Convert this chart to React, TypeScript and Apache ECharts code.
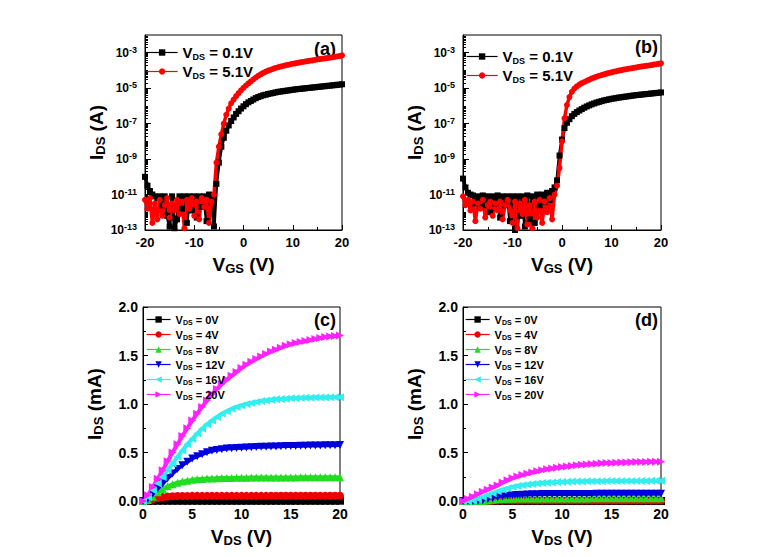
import React, { useEffect, useRef } from 'react';
import * as echarts from 'echarts';

// ---------- Data ----------
// Gate voltage sweep (V) for panels (a) and (b)
const vgs = [
  -20, -19.5, -19, -18.5, -18, -17.5, -17, -16.5, -16, -15.5, -15, -14.5, -14, -13.5, -13, -12.5,
  -12, -11.5, -11, -10.5, -10, -9.5, -9, -8.5, -8, -7.5, -7, -6.5, -6, -5.5, -5, -4.5, -4, -3.5,
  -3, -2.5, -2, -1.5, -1, -0.5, 0, 0.5, 1, 1.5, 2, 2.5, 3, 3.5, 4, 4.5, 5, 5.5, 6, 6.5, 7, 7.5,
  8, 8.5, 9, 9.5, 10, 10.5, 11, 11.5, 12, 12.5, 13, 13.5, 14, 14.5, 15, 15.5, 16, 16.5, 17, 17.5,
  18, 18.5, 19, 19.5, 20,
];
// log10(I_DS / A)
const aLogLow = [
  -10.0, -10.5, -10.8, -11.0, -11.1, -11.2, -11.1, -11.6, -11.1, -12.2, -12.8, -11.1, -12.9, -12.4,
  -11.1, -11.8, -11.1, -12.6, -11.1, -11.9, -11.1, -12.3, -11.1, -11.7, -11.1, -12.5, -11.0, -11.1,
  -12.8, -10.4, -9.2, -8.3, -7.8, -7.4, -7.1, -6.85, -6.65, -6.45, -6.3, -6.15, -6.02, -5.9, -5.8,
  -5.72, -5.64, -5.56, -5.5, -5.45, -5.4, -5.37, -5.33, -5.3, -5.27, -5.24, -5.21, -5.19, -5.17,
  -5.15, -5.13, -5.11, -5.09, -5.07, -5.05, -5.04, -5.02, -5.01, -4.99, -4.98, -4.96, -4.95, -4.93,
  -4.92, -4.9, -4.89, -4.87, -4.86, -4.84, -4.83, -4.81, -4.8, -4.78,
];
const aLogHigh = [
  -11.3, -11.8, -11.2, -12.6, -11.5, -12.4, -11.3, -12.2, -11.6, -11.2, -12.3, -11.5, -11.9, -11.3,
  -12.1, -11.4, -12.9, -11.3, -11.8, -11.2, -12.2, -11.4, -12.4, -11.2, -11.7, -11.3, -12.6, -11.4,
  -11.0, -9.2, -8.3, -7.6, -7.0, -6.5, -6.15, -5.85, -5.64, -5.45, -5.28, -5.12, -4.98, -4.85, -4.73,
  -4.62, -4.5, -4.4, -4.3, -4.22, -4.14, -4.07, -4.01, -3.96, -3.91, -3.86, -3.82, -3.78, -3.75,
  -3.71, -3.68, -3.65, -3.62, -3.6, -3.57, -3.54, -3.52, -3.5, -3.47, -3.45, -3.43, -3.41, -3.38,
  -3.36, -3.34, -3.32, -3.3, -3.28, -3.26, -3.24, -3.21, -3.19, -3.15,
];
const bLogLow = [
  -10.1, -10.6, -10.9, -11.0, -11.05, -11.5, -11.1, -11.7, -11.05, -11.6, -11.1, -12.0, -11.1, -11.5,
  -11.05, -12.3, -11.1, -11.6, -11.1, -12.5, -11.1, -13.0, -11.1, -12.2, -11.1, -12.8, -11.05, -12.4,
  -11.1, -12.6, -11.0, -11.6, -11.0, -11.4, -10.9, -11.3, -10.8, -10.6, -10.2, -8.8, -7.9, -7.25,
  -6.95, -6.75, -6.58, -6.45, -6.35, -6.26, -6.18, -6.1, -6.03, -5.97, -5.91, -5.86, -5.81, -5.77,
  -5.73, -5.69, -5.66, -5.63, -5.6, -5.58, -5.55, -5.53, -5.51, -5.49, -5.47, -5.45, -5.43, -5.41,
  -5.39, -5.38, -5.36, -5.35, -5.33, -5.32, -5.3, -5.29, -5.27, -5.26, -5.24,
];
const bLogHigh = [
  -11.1, -11.6, -11.3, -11.9, -11.4, -12.5, -11.5, -11.8, -11.3, -12.3, -11.6, -11.4, -12.2, -11.5,
  -11.9, -11.4, -12.4, -11.6, -11.3, -11.9, -12.6, -11.4, -12.9, -11.5, -12.1, -11.3, -12.7, -11.6,
  -12.9, -11.4, -12.3, -11.3, -12.6, -11.4, -12.0, -11.2, -12.4, -11.0, -10.5, -9.5, -8.0, -6.7,
  -5.95, -5.5, -5.2, -5.02, -4.9, -4.8, -4.72, -4.65, -4.58, -4.52, -4.45, -4.4, -4.35, -4.3, -4.26,
  -4.22, -4.18, -4.14, -4.11, -4.07, -4.04, -4.01, -3.98, -3.95, -3.93, -3.9, -3.88, -3.85, -3.83,
  -3.8, -3.78, -3.76, -3.74, -3.72, -3.7, -3.67, -3.65, -3.63, -3.6,
];

// Drain voltage sweep (V) for panels (c) and (d)
const vds = [
  0, 0.5, 1, 1.5, 2, 2.5, 3, 3.5, 4, 4.5, 5, 5.5, 6, 6.5, 7, 7.5, 8, 8.5, 9, 9.5, 10, 10.5, 11, 11.5,
  12, 12.5, 13, 13.5, 14, 14.5, 15, 15.5, 16, 16.5, 17, 17.5, 18, 18.5, 19, 19.5, 20,
];
// I_DS (mA)
const c0 = [
  0, 0.001, 0.002, 0.003, 0.003, 0.003, 0.003, 0.003, 0.003, 0.003, 0.003, 0.003, 0.003, 0.003,
  0.003, 0.003, 0.003, 0.003, 0.003, 0.003, 0.003, 0.003, 0.003, 0.003, 0.003, 0.003, 0.003, 0.003,
  0.003, 0.003, 0.003, 0.003, 0.003, 0.003, 0.003, 0.003, 0.003, 0.003, 0.003, 0.003, 0.003,
];
const c4 = [
  0, 0.005, 0.017, 0.03, 0.04, 0.046, 0.049, 0.051, 0.052, 0.052, 0.053, 0.053, 0.053, 0.053, 0.053,
  0.053, 0.053, 0.053, 0.053, 0.053, 0.053, 0.053, 0.053, 0.053, 0.053, 0.053, 0.054, 0.054, 0.054,
  0.054, 0.054, 0.054, 0.054, 0.054, 0.054, 0.054, 0.054, 0.054, 0.054, 0.054, 0.054,
];
const c8 = [
  0, 0.01, 0.045, 0.09, 0.125, 0.152, 0.172, 0.188, 0.2, 0.21, 0.218, 0.224, 0.228, 0.231, 0.233,
  0.235, 0.236, 0.237, 0.238, 0.239, 0.24, 0.24, 0.241, 0.241, 0.241, 0.242, 0.242, 0.242, 0.243,
  0.243, 0.243, 0.243, 0.244, 0.244, 0.244, 0.244, 0.245, 0.245, 0.245, 0.245, 0.245,
];
const c12 = [
  0, 0.02, 0.076, 0.13, 0.18, 0.235, 0.283, 0.33, 0.369, 0.405, 0.438, 0.462, 0.483, 0.502, 0.517,
  0.527, 0.534, 0.54, 0.544, 0.547, 0.55, 0.552, 0.554, 0.556, 0.558, 0.56, 0.562, 0.563, 0.565,
  0.566, 0.567, 0.568, 0.569, 0.57, 0.571, 0.572, 0.573, 0.574, 0.575, 0.576, 0.577,
];
const c16 = [
  0, 0.04, 0.11, 0.18, 0.248, 0.32, 0.386, 0.455, 0.52, 0.585, 0.64, 0.695, 0.745, 0.79, 0.83, 0.865,
  0.9, 0.925, 0.95, 0.97, 0.985, 1.0, 1.01, 1.02, 1.03, 1.037, 1.043, 1.048, 1.052, 1.055, 1.058,
  1.06, 1.062, 1.064, 1.065, 1.066, 1.067, 1.068, 1.069, 1.07, 1.07,
];
const c20 = [
  0, 0.06, 0.145, 0.23, 0.317, 0.41, 0.5, 0.585, 0.67, 0.75, 0.83, 0.9, 0.97, 1.035, 1.1, 1.155,
  1.205, 1.25, 1.29, 1.33, 1.37, 1.405, 1.435, 1.465, 1.49, 1.515, 1.54, 1.56, 1.58, 1.6, 1.615,
  1.63, 1.64, 1.65, 1.66, 1.67, 1.68, 1.69, 1.695, 1.7, 1.705,
];
const d0 = [
  0, 0, 0, 0, 0, 0, 0, 0, 0, 0, 0, 0, 0, 0, 0, 0, 0, 0, 0, 0, 0, 0, 0, 0, 0, 0, 0, 0, 0, 0, 0, 0, 0,
  0, 0, 0, 0, 0, 0, 0, 0,
];
const d4 = [
  0, 0, 0, 0, 0.001, 0.002, 0.003, 0.004, 0.004, 0.005, 0.005, 0.005, 0.005, 0.005, 0.005, 0.005,
  0.005, 0.005, 0.005, 0.005, 0.005, 0.005, 0.005, 0.005, 0.005, 0.005, 0.005, 0.005, 0.005, 0.005,
  0.005, 0.005, 0.005, 0.005, 0.005, 0.005, 0.005, 0.005, 0.005, 0.005, 0.005,
];
const d8 = [
  0, 0, 0, 0, 0, 0.006, 0.012, 0.017, 0.02, 0.022, 0.024, 0.025, 0.025, 0.026, 0.026, 0.026, 0.026,
  0.027, 0.027, 0.027, 0.027, 0.027, 0.027, 0.027, 0.027, 0.027, 0.028, 0.028, 0.028, 0.028, 0.028,
  0.028, 0.028, 0.028, 0.028, 0.028, 0.028, 0.028, 0.028, 0.028, 0.028,
];
const d12 = [
  0, 0, 0, 0, 0.008, 0.018, 0.028, 0.038, 0.046, 0.053, 0.058, 0.062, 0.065, 0.067, 0.069, 0.07,
  0.071, 0.071, 0.072, 0.072, 0.072, 0.072, 0.073, 0.073, 0.073, 0.073, 0.073, 0.074, 0.074, 0.074,
  0.074, 0.074, 0.074, 0.074, 0.075, 0.075, 0.075, 0.075, 0.075, 0.075, 0.075,
];
const d16 = [
  0, 0, 0.005, 0.02, 0.04, 0.06, 0.08, 0.1, 0.117, 0.132, 0.145, 0.155, 0.163, 0.17, 0.176, 0.181,
  0.185, 0.189, 0.192, 0.195, 0.197, 0.199, 0.2, 0.201, 0.202, 0.203, 0.203, 0.204, 0.204, 0.205,
  0.205, 0.205, 0.206, 0.206, 0.206, 0.207, 0.207, 0.207, 0.208, 0.208, 0.208,
];
const d20 = [
  0, 0.02, 0.045, 0.07, 0.095, 0.117, 0.14, 0.16, 0.19, 0.213, 0.235, 0.252, 0.268, 0.282, 0.295,
  0.307, 0.318, 0.328, 0.336, 0.344, 0.35, 0.356, 0.362, 0.368, 0.373, 0.377, 0.381, 0.385, 0.388,
  0.391, 0.393, 0.395, 0.397, 0.398, 0.4, 0.401, 0.402, 0.403, 0.404, 0.405, 0.405,
];

const logMajorTicks = [-13, -11, -9, -7, -5, -3];
const transferLegend = ['0.1V', '5.1V'];
const outputLegend = ['0V', '4V', '8V', '12V', '16V', '20V'];

// ---------- Helpers ----------
const FONT = 'Liberation Sans';
const pair = (xs: number[], ys: number[]) => xs.map((x, i) => [x, ys[i]]);

const logMinorTicks: number[] = [];
for (let n = -13; n < -2; n++) {
  for (let k = 1; k <= 9; k++) {
    if (k === 1 && Math.abs(n) % 2 === 1) continue;
    logMinorTicks.push(n + Math.log10(k));
  }
}

const lbl = (size: number) => ({ color: '#000', fontSize: size, fontWeight: 'bold', fontFamily: FONT });

function xAxisDef(gi: number, min: number, max: number, interval: number, nameTxt: string, fs: number, gap: number) {
  return {
    type: 'value', gridIndex: gi, min, max, interval,
    axisLine: { show: true, onZero: false, lineStyle: { color: '#000', width: 1 } },
    axisTick: { show: true, inside: true, length: 5, lineStyle: { color: '#000' } },
    minorTick: { show: true, splitNumber: 2, length: 3, lineStyle: { color: '#000' } },
    splitLine: { show: false }, minorSplitLine: { show: false },
    axisLabel: { ...lbl(fs), margin: 6 },
    name: `{v|V}{s|${nameTxt}}{v| (V)}`,
    nameLocation: 'middle', nameGap: gap, nameMoveOverlap: false,
    nameTextStyle: {
      rich: {
        v: { fontSize: 19, fontWeight: 'bold', fontFamily: FONT, color: '#000', lineHeight: 22 },
        s: { fontSize: 13, fontWeight: 'bold', fontFamily: FONT, color: '#000', verticalAlign: 'bottom', lineHeight: 22 },
      },
    },
  };
}

const yNameRich = {
  i: { fontSize: 19, fontWeight: 'bold', fontFamily: FONT, color: '#000', lineHeight: 22 },
  s: { fontSize: 13, fontWeight: 'bold', fontFamily: FONT, color: '#000', verticalAlign: 'bottom', lineHeight: 22 },
};

function logYAxes(gi: number) {
  return [
    {
      type: 'value', gridIndex: gi, min: -13, max: -2,
      axisLine: { show: true, onZero: false, lineStyle: { color: '#000', width: 1 } },
      axisTick: { show: true, inside: true, length: 6, customValues: logMajorTicks, lineStyle: { color: '#000' } },
      splitLine: { show: false },
      axisLabel: {
        customValues: logMajorTicks, margin: 8,
        formatter: (v: number) => `{b|10}{s|${Math.round(v)}}`,
        rich: {
          b: { ...lbl(12), lineHeight: 15 },
          s: { ...lbl(9), verticalAlign: 'top', lineHeight: 15 },
        },
      },
      name: '{i|I}{s|DS}{i| (A)}', nameLocation: 'middle', nameGap: 38, nameMoveOverlap: false,
      nameTextStyle: { rich: yNameRich },
    },
    {
      type: 'value', gridIndex: gi, min: -13, max: -2, position: 'left',
      axisLine: { show: false, onZero: false },
      axisTick: { show: true, inside: true, length: 3, customValues: logMinorTicks, lineStyle: { color: '#000' } },
      axisLabel: { show: false }, splitLine: { show: false },
    },
  ];
}

function linYAxis(gi: number) {
  return {
    type: 'value', gridIndex: gi, min: 0, max: 2, interval: 0.5,
    axisLine: { show: true, onZero: false, lineStyle: { color: '#000', width: 1 } },
    axisTick: { show: true, inside: true, length: 5, lineStyle: { color: '#000' } },
    minorTick: { show: true, splitNumber: 2, length: 3, lineStyle: { color: '#000' } },
    splitLine: { show: false }, minorSplitLine: { show: false },
    axisLabel: { ...lbl(14), margin: 5, formatter: (v: number) => v.toFixed(1) },
    name: '{i|I}{s|DS}{i| (mA)}', nameLocation: 'middle', nameGap: 38, nameMoveOverlap: false,
    nameTextStyle: { rich: yNameRich },
  };
}

function line(name: string, xi: number, yi: number, data: number[][], color: string,
  symbol: string, rotate: number, size: number, width: number) {
  return {
    type: 'line', name, xAxisIndex: xi, yAxisIndex: yi, data,
    symbol, symbolRotate: rotate, symbolSize: size, showSymbol: true, showAllSymbol: true,
    itemStyle: { color, borderWidth: 0 },
    lineStyle: { color, width },
    emphasis: { disabled: true }, silent: true, clip: true,
  };
}

const OUT_COLORS = ['#000000', '#ee0000', '#22dd22', '#0000dd', '#33eeee', '#ff22ff'];
const OUT_SYMBOLS: [string, number][] = [['rect', 0], ['circle', 0], ['triangle', 0], ['triangle', 180], ['triangle', 90], ['triangle', -90]];

function legendDef(names: string[], labels: string[], left: number, top: number, big: boolean) {
  const map: Record<string, string> = {};
  names.forEach((n, i) => { map[n] = labels[i]; });
  const fs = big ? 15 : 11;
  const lh = big ? 17 : 13;
  return {
    data: names, left, top, orient: 'vertical',
    itemWidth: big ? 31 : 24, itemHeight: 8, itemGap: 3,
    selectedMode: false, padding: 0,
    lineStyle: { width: 1.2 },
    formatter: (n: string) => `{v|V}{s|DS}{v| = ${map[n]}}`,
    textStyle: {
      rich: {
        v: { fontSize: fs, fontWeight: 'bold', fontFamily: FONT, color: '#000', lineHeight: lh },
        s: { fontSize: big ? 9 : 7, fontWeight: 'bold', fontFamily: FONT, color: '#000', verticalAlign: 'bottom', lineHeight: lh },
      },
    },
  };
}

function panelLabel(text: string, x: number, y: number) {
  return {
    type: 'text', x, y, silent: true,
    style: {
      text, fill: '#000', font: `bold 18px "${FONT}"`,
      textAlign: 'right', align: 'right', textVerticalAlign: 'middle', verticalAlign: 'middle',
    },
  };
}

export default function App() {
  const ref = useRef<HTMLDivElement>(null);
  useEffect(() => {
    if (!ref.current) return;
    const chart = echarts.init(ref.current, null, { renderer: 'svg' });
    const cNames = outputLegend.map((_, i) => 'c' + i);
    const dNames = outputLegend.map((_, i) => 'd' + i);
    const cData = [c0, c4, c8, c12, c16, c20];
    const dData = [d0, d4, d8, d12, d16, d20];
    const series: any[] = [
      line('aL', 0, 0, pair(vgs, aLogLow), '#000000', 'rect', 0, 6, 3.5),
      line('aH', 0, 0, pair(vgs, aLogHigh), '#ff0000', 'circle', 0, 6, 3.5),
      line('bL', 1, 2, pair(vgs, bLogLow), '#000000', 'rect', 0, 6, 3.5),
      line('bH', 1, 2, pair(vgs, bLogHigh), '#ff0000', 'circle', 0, 6, 3.5),
    ];
    cData.forEach((d, i) => series.push(line(cNames[i], 2, 4, pair(vds, d), OUT_COLORS[i], OUT_SYMBOLS[i][0], OUT_SYMBOLS[i][1], 8, 4)));
    dData.forEach((d, i) => series.push(line(dNames[i], 3, 5, pair(vds, d), OUT_COLORS[i], OUT_SYMBOLS[i][0], OUT_SYMBOLS[i][1], 8, 4)));

    const gridStyle = { show: true, borderColor: '#000', borderWidth: 1, backgroundColor: 'transparent' };
    chart.setOption({
      animation: false,
      backgroundColor: '#fff',
      grid: [
        { left: 145, top: 35, width: 197, height: 195, ...gridStyle },
        { left: 463, top: 35, width: 198, height: 195, ...gridStyle },
        { left: 143, top: 307, width: 197, height: 194, ...gridStyle },
        { left: 463, top: 307, width: 198, height: 194, ...gridStyle },
      ],
      xAxis: [
        xAxisDef(0, -20, 20, 10, 'GS', 13, 23),
        xAxisDef(1, -20, 20, 10, 'GS', 13, 23),
        xAxisDef(2, 0, 20, 5, 'DS', 14, 24),
        xAxisDef(3, 0, 20, 5, 'DS', 14, 24),
      ],
      yAxis: [...logYAxes(0), ...logYAxes(1), linYAxis(2), linYAxis(3)],
      legend: [
        legendDef(['aL', 'aH'], transferLegend, 146, 45, true),
        legendDef(['bL', 'bH'], transferLegend, 466, 49, true),
        legendDef(cNames, outputLegend, 146, 314, false),
        legendDef(dNames, outputLegend, 465, 314, false),
      ],
      graphic: [
        panelLabel('(a)', 336, 49),
        panelLabel('(b)', 658, 47),
        panelLabel('(c)', 336, 320),
        panelLabel('(d)', 658, 320),
      ],
      series,
    });
    return () => chart.dispose();
  }, []);
  return <div ref={ref} style={{ position: 'fixed', left: 0, top: 0, width: 783, height: 557 }} />;
}
